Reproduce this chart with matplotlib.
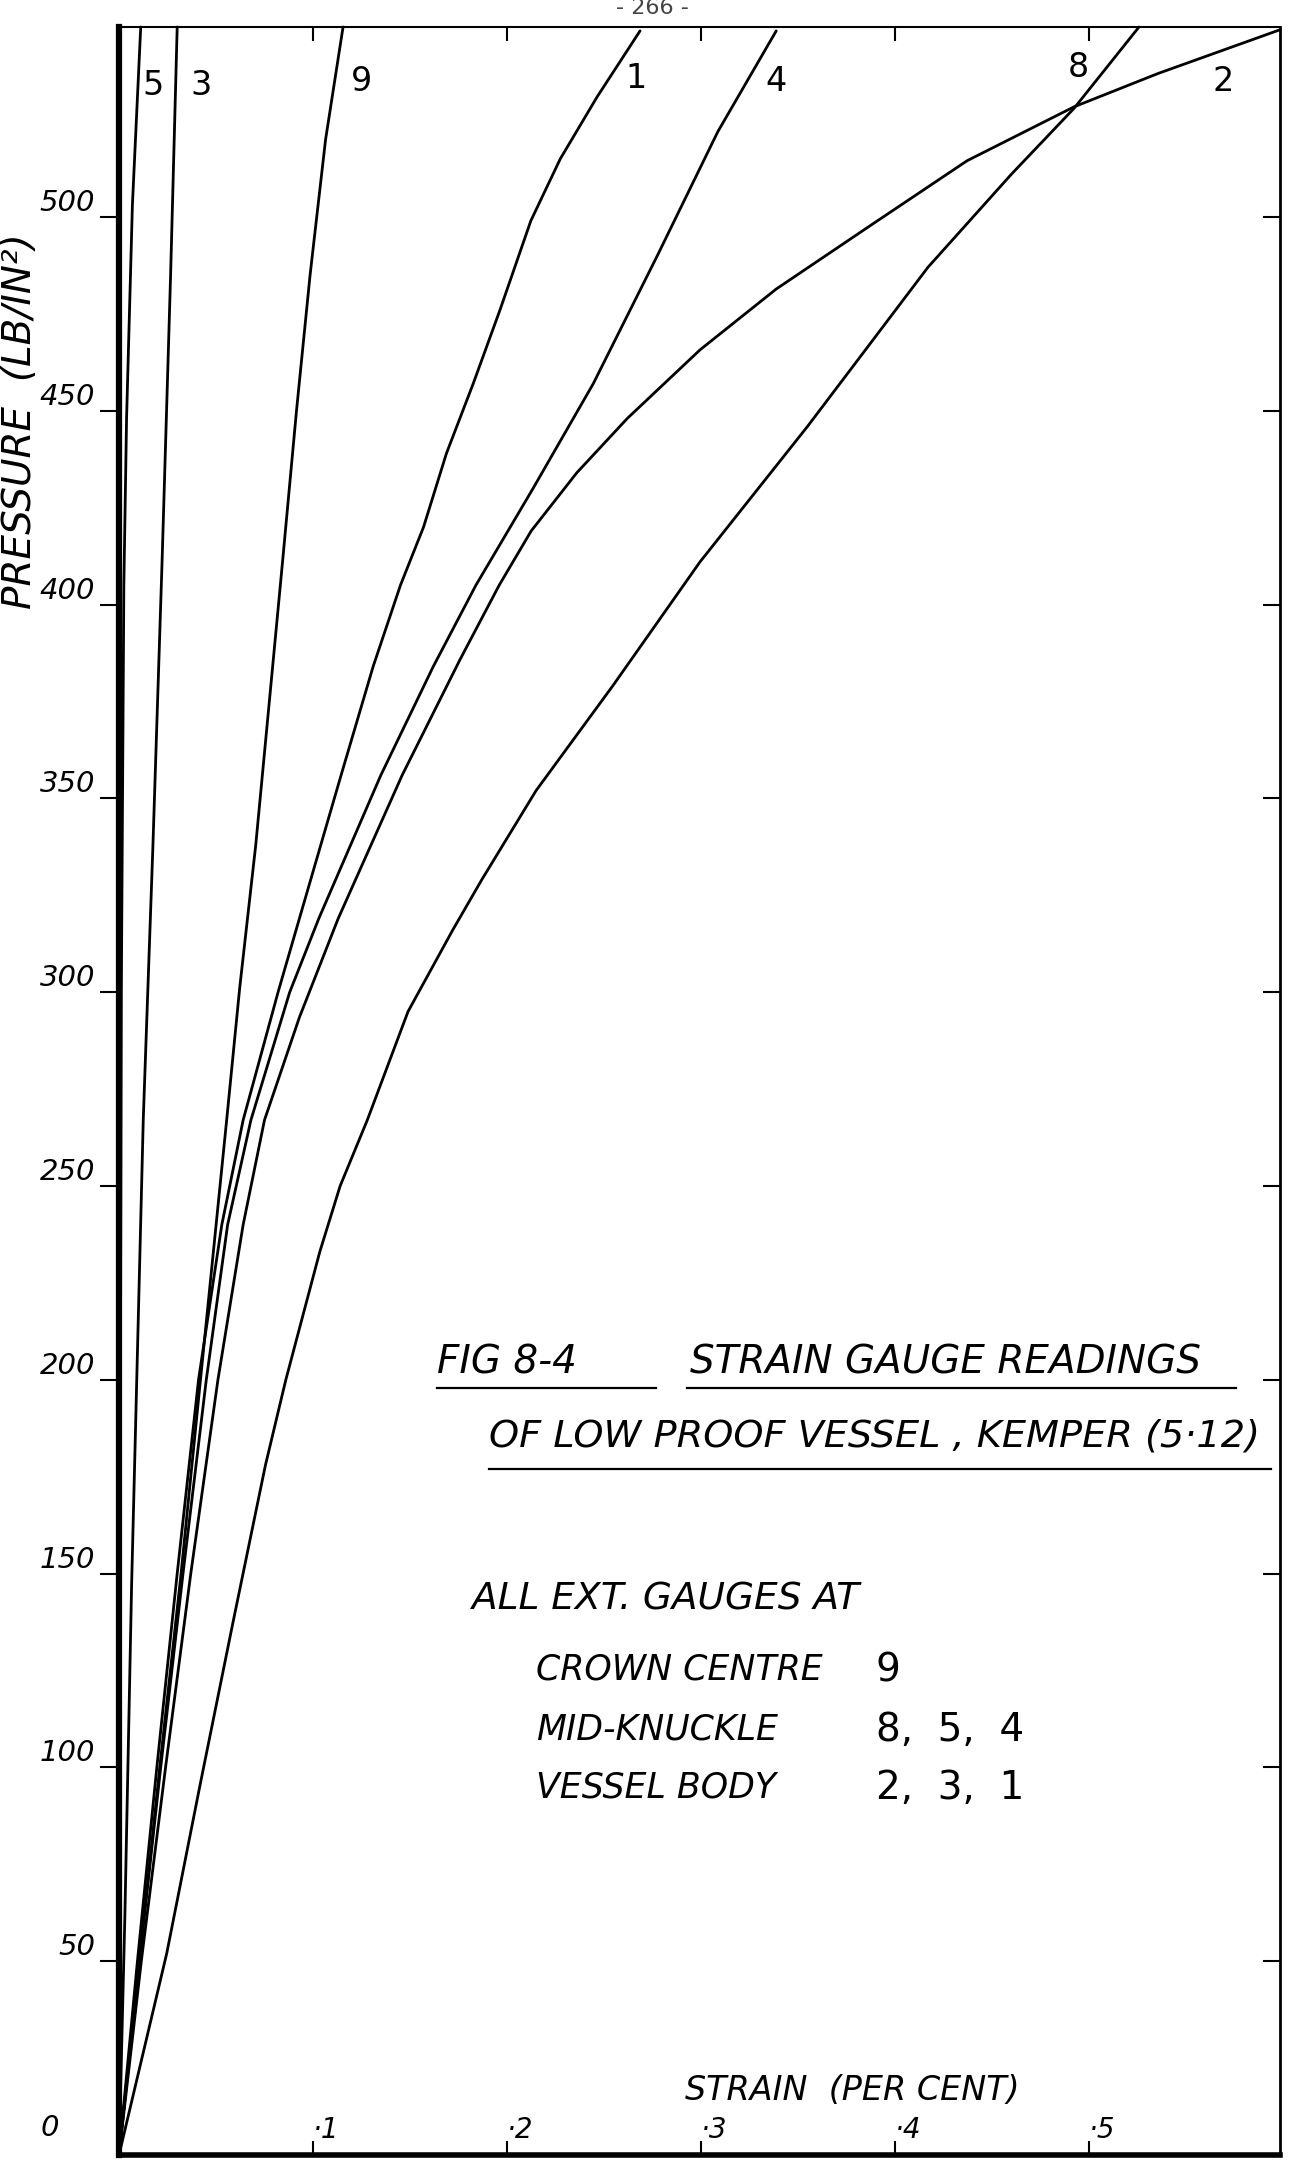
import matplotlib
matplotlib.use("Agg")
import matplotlib.pyplot as plt
from matplotlib.lines import Line2D

# strain (per cent) vs pressure (lb/in^2), one pair per gauge
p5 = [0, 150, 300, 405, 448, 503, 549]
s5 = [0, 0.0005, 0.0012, 0.0025, 0.0039, 0.0069, 0.0112]

p3 = [0, 61, 147, 267, 338, 411, 485, 549]
s3 = [0, 0.003, 0.0065, 0.0125, 0.0175, 0.0222, 0.0266, 0.0300]

p9 = [0, 50, 100, 150, 200, 267, 301, 338, 375, 411, 450, 485, 520, 549]
s9 = [0, 0.0105, 0.021, 0.032, 0.042, 0.0555, 0.0622, 0.0705, 0.0775, 0.0843, 0.0915, 0.0985,
      0.1065, 0.1155]

p1 = [0, 50, 100, 150, 200, 240, 267, 300, 319, 356, 384, 405, 420, 439, 457, 476, 499, 515, 531, 548]
s1 = [0, 0.0095, 0.0195, 0.030, 0.041, 0.053, 0.064, 0.082, 0.093, 0.1145, 0.131, 0.1451,
      0.157, 0.1688, 0.1826, 0.1964, 0.2123, 0.2275, 0.2465, 0.2686]

p4 = [0, 50, 100, 150, 200, 240, 267, 300, 319, 356, 384, 405, 430, 457, 490, 522, 548]
s4 = [0, 0.0105, 0.0215, 0.033, 0.045, 0.056, 0.068, 0.088, 0.103, 0.135, 0.162, 0.184,
      0.2135, 0.2445, 0.2775, 0.3087, 0.3388]

p2 = [0, 50, 100, 150, 200, 240, 267, 293.5, 319, 356, 386, 405, 419, 434, 448,
      465.7, 481.4, 498, 514.5, 528.4, 537, 548.2]
s2 = [0, 0.0115, 0.024, 0.037, 0.051, 0.064, 0.075, 0.093, 0.113, 0.146, 0.176, 0.196,
      0.2125, 0.236, 0.262, 0.2995, 0.3388, 0.388, 0.4372, 0.4923, 0.5356, 0.598]

p8 = [0, 52, 95.5, 138, 178, 200, 233, 250, 267, 295, 316, 329, 352, 379, 411, 446, 487, 511,
      528, 549]
s8 = [0, 0.0246, 0.0418, 0.059, 0.0755, 0.086, 0.1035, 0.114, 0.128, 0.149, 0.172, 0.187,
      0.215, 0.2545, 0.2995, 0.355, 0.417, 0.460, 0.4923, 0.5258]

gauge_names = ['5', '3', '9', '1', '4', '8', '2']
gauge_label_x = [0.0177, 0.0424, 0.125, 0.2665, 0.3388, 0.4943, 0.569]
gauge_label_y = [534, 534, 535, 535.7, 535, 538.5, 535]

ytick_vals = [50, 100, 150, 200, 250, 300, 350, 400, 450, 500]
xtick_vals = [0.1, 0.2, 0.3, 0.4, 0.5]
xtick_text = ['\u00b71', '\u00b72', '\u00b73', '\u00b74', '\u00b75']

W, H = 1298, 2163


def fp(x, y):
  # pixel position on the page -> figure fraction
  return x / W, 1 - y / H


hand = dict(family='DejaVu Sans', style='italic', color='black')

fig = plt.figure(figsize=(W / 100, H / 100), dpi=100)
fig.patch.set_facecolor('white')
ax = fig.add_axes([119 / W, 8 / H, (1280 - 119) / W, (2155 - 27) / H])

for s, p in [(s5, p5), (s3, p3), (s9, p9), (s1, p1), (s4, p4), (s2, p2), (s8, p8)]:
  ax.plot(s, p, color='black', lw=2.0, solid_capstyle='round', solid_joinstyle='round',
          clip_on=False)

for name, x, y in zip(gauge_names, gauge_label_x, gauge_label_y):
  ax.text(x, y, name, ha='center', va='center', fontsize=24, family='DejaVu Sans', color='black')

ax.set_xlim(0, 0.5985)
ax.set_ylim(0, 549)

ax.spines['left'].set_linewidth(4.5)
ax.spines['bottom'].set_linewidth(4)
ax.spines['top'].set_linewidth(1.5)
ax.spines['right'].set_linewidth(2)

ax.set_yticks(ytick_vals)
ax.set_yticklabels([str(v) for v in ytick_vals], va='bottom', fontsize=21, **hand)
ax.tick_params(axis='y', which='both', left=True, direction='out',
               length=14, width=1.5, pad=3)
ax.tick_params(axis='y', which='both', right=True, labelright=False)
for t in ax.yaxis.get_major_ticks():
  t.tick2line.set_marker(matplotlib.markers.TICKLEFT)
  t.tick2line.set_markersize(12)

ax.set_xticks(xtick_vals)
ax.set_xticklabels(xtick_text, ha='left', va='bottom', fontsize=20, **hand)
ax.tick_params(axis='x', which='both', top=True, bottom=True, direction='in',
               length=10, width=1.5, pad=-8)

ax.text(-0.06, 0.006, '0', transform=ax.transAxes, ha='center', va='bottom',
        fontsize=21, **hand)

# axis titles
fig.text(*fp(852, 2090), 'STRAIN  (PER CENT)', ha='center', va='center', fontsize=24, **hand)
fig.text(*fp(20, 421), 'PRESSURE  (LB/IN\u00b2)', ha='center', va='center', rotation=90,
         fontsize=28, **hand)

# figure caption
fig.text(*fp(437, 1363), 'FIG 8-4', ha='left', va='center', fontsize=28, **hand)
fig.text(*fp(690, 1363), 'STRAIN GAUGE READINGS', ha='left', va='center', fontsize=28, **hand)
fig.text(*fp(489, 1437), 'OF LOW PROOF VESSEL , KEMPER (5\u00b712)', ha='left', va='center',
         fontsize=27.5, **hand)
for x0, x1, y in [(437, 656, 1388), (687, 1236, 1388), (489, 1271, 1469)]:
  (a, b), (c, _) = fp(x0, y), fp(x1, y)
  fig.add_artist(Line2D([a, c], [b, b], color='black', lw=1.6))

# gauge positions note
fig.text(*fp(472, 1600), 'ALL EXT. GAUGES AT', ha='left', va='center', fontsize=27, **hand)
rows = [('CROWN CENTRE', '9', 1670), ('MID-KNUCKLE', '8,  5,  4', 1730),
        ('VESSEL BODY', '2,  3,  1', 1788)]
for place, nums, y in rows:
  fig.text(*fp(536, y), place, ha='left', va='center', fontsize=25, **hand)
  fig.text(*fp(876, y), nums, ha='left', va='center', fontsize=28, family='DejaVu Sans',
           color='black')

fig.text(*fp(652, 8), '- 266 -', ha='center', va='center', fontsize=16, color='#444444')

fig.savefig('out.png', dpi=100, facecolor='white')
